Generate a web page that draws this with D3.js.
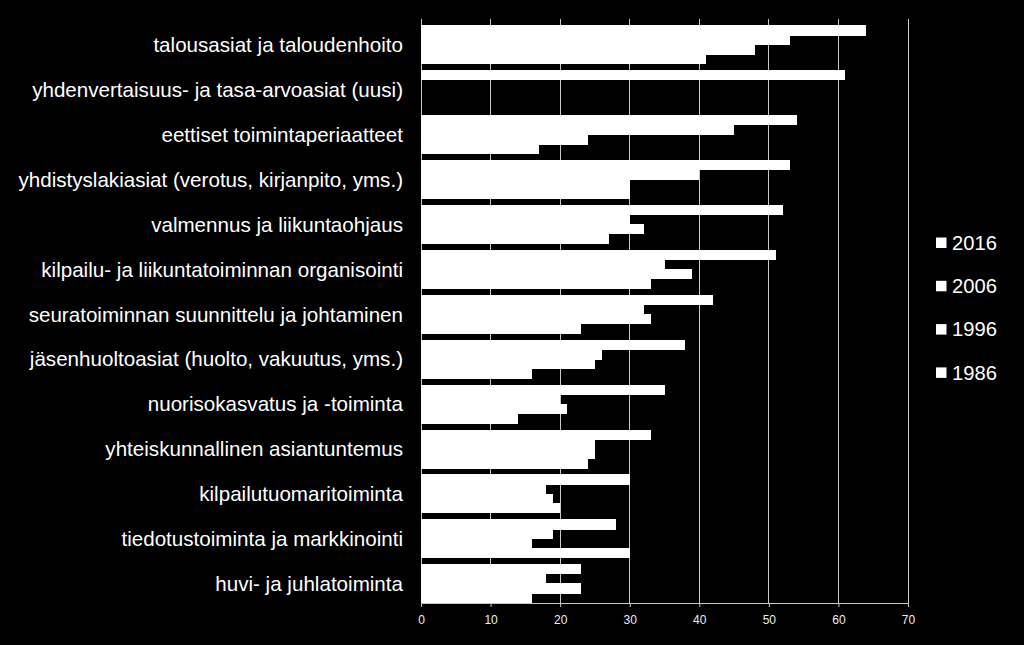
<!DOCTYPE html>
<html>
<head>
<meta charset="utf-8">
<script src="https://cdn.jsdelivr.net/npm/d3@7/dist/d3.min.js"></script>
<style>
  html, body { margin: 0; padding: 0; background: #000; }
  svg { display: block; }
  text { font-family: "Liberation Sans", Arial, sans-serif; }
</style>
</head>
<body>
<svg id="chart" width="1024" height="645"></svg>
<script>
const categories = [
  "talousasiat ja taloudenhoito",
  "yhdenvertaisuus- ja tasa-arvoasiat (uusi)",
  "eettiset toimintaperiaatteet",
  "yhdistyslakiasiat (verotus, kirjanpito, yms.)",
  "valmennus ja liikuntaohjaus",
  "kilpailu- ja liikuntatoiminnan organisointi",
  "seuratoiminnan suunnittelu ja johtaminen",
  "jäsenhuoltoasiat (huolto, vakuutus, yms.)",
  "nuorisokasvatus ja -toiminta",
  "yhteiskunnallinen asiantuntemus",
  "kilpailutuomaritoiminta",
  "tiedotustoiminta ja markkinointi",
  "huvi- ja juhlatoiminta"
];
const seriesNames = ["2016", "2006", "1996", "1986"];
const values2016 = [64, 61, 54, 53, 52, 51, 42, 38, 35, 33, 30, 28, 23];
const values2006 = [53, 0, 45, 40, 30, 35, 32, 26, 20, 25, 18, 19, 18];
const values1996 = [48, 0, 24, 30, 32, 39, 33, 25, 21, 25, 19, 16, 23];
const values1986 = [41, 0, 17, 30, 27, 33, 23, 16, 14, 24, 20, 30, 16];
const xTicks = [0, 10, 20, 30, 40, 50, 60, 70];

const seriesValues = [values2016, values2006, values1996, values1986];

const svg = d3.select("#chart");
const W = 1024, H = 645;
svg.append("rect").attr("width", W).attr("height", H).attr("fill", "#000");

const x = d3.scaleLinear().domain([0, 70]).range([421, 908]);
const y = d3.scaleBand().domain(categories).range([25.3, 602.7]).paddingInner(0.145).paddingOuter(0);
const ySub = d3.scaleBand().domain(seriesNames).range([0, y.bandwidth()]);

const plotTop = 19, plotBottom = 603;

// gridlines
svg.append("g").selectAll("line").data(xTicks).join("line")
  .attr("x1", d => x(d)).attr("x2", d => x(d))
  .attr("y1", plotTop).attr("y2", plotBottom)
  .attr("stroke", "#c8c8c8").attr("stroke-width", 1)
  .attr("shape-rendering", "crispEdges");

// bars
const groups = svg.append("g").selectAll("g").data(categories).join("g")
  .attr("transform", d => `translate(0,${y(d)})`);
groups.selectAll("rect")
  .data((c, i) => seriesNames.map((s, j) => ({ s, v: seriesValues[j][i] })))
  .join("rect")
  .filter(d => d.v > 0)
  .attr("x", x(0))
  .attr("y", d => ySub(d.s))
  .attr("width", d => x(d.v) - x(0))
  .attr("height", ySub.bandwidth() + 0.6)
  .attr("fill", "#fff")
  .attr("shape-rendering", "crispEdges");

// x axis
const xAxis = d3.axisBottom(x).tickValues(xTicks).tickSize(4).tickPadding(8).tickFormat(d3.format("d"));
const ax = svg.append("g").attr("transform", `translate(0,${plotBottom})`).call(xAxis);
ax.select(".domain").attr("stroke", "#c8c8c8");
ax.selectAll(".tick line").attr("stroke", "#c8c8c8");
ax.selectAll(".tick text").attr("fill", "#eeeeee").attr("font-size", 12)
  .attr("font-family", "'Liberation Sans', Arial, sans-serif");

// category labels
svg.append("g").selectAll("text").data(categories).join("text")
  .attr("x", 403)
  .attr("y", d => y(d) + y.bandwidth() / 2)
  .attr("text-anchor", "end")
  .attr("dominant-baseline", "central")
  .attr("fill", "#fff")
  .attr("font-size", 20.6)
  .text(d => d);

// legend
const legend = svg.append("g").selectAll("g").data(seriesNames).join("g")
  .attr("transform", (d, i) => `translate(936,${242.7 + i * 43.3})`);
legend.append("rect").attr("x", 0).attr("y", -5.2).attr("width", 10.5).attr("height", 10.5).attr("fill", "#fff");
legend.append("text").attr("x", 16).attr("y", 0)
  .attr("dominant-baseline", "central")
  .attr("fill", "#fff").attr("font-size", 20.2)
  .text(d => d);
</script>
</body>
</html>
